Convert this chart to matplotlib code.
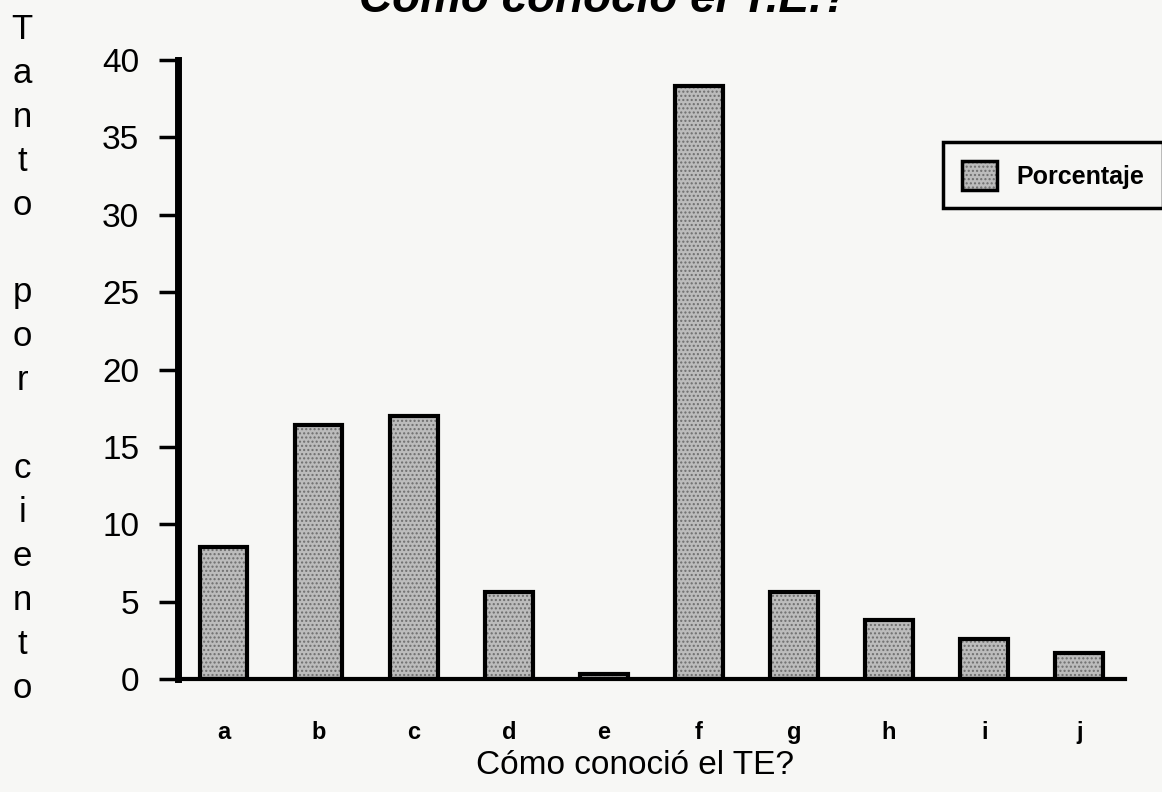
import numpy as np
import matplotlib
matplotlib.use('Agg')
import matplotlib.pyplot as plt
from matplotlib.patches import Patch
from matplotlib.legend_handler import HandlerTuple

# datos
categorias = ['a', 'b', 'c', 'd', 'e', 'f', 'g', 'h', 'i', 'j']
porcentaje = [8.5, 16.4, 17.0, 5.6, 0.3, 38.3, 5.6, 3.8, 2.6, 1.7]
yticks = [0, 5, 10, 15, 20, 25, 30, 35, 40]

plt.rcParams['font.family'] = ['Liberation Sans', 'DejaVu Sans']
bg = '#f7f7f5'
gris = '#bcbcbc'

fig = plt.figure(figsize=(11.62, 7.92), dpi=100, facecolor=bg)
ax = fig.add_axes([0.1532, 0.1427, 0.8148, 0.7815])
ax.set_facecolor(bg)

x = np.arange(len(categorias))
# relleno punteado gris
relleno = ax.bar(x, porcentaje, width=0.5, color=gris, hatch='....',
                 edgecolor='#6e6e6e', linewidth=0, zorder=2)
borde = ax.bar(x, porcentaje, width=0.5, fill=False, edgecolor='black',
               linewidth=3, zorder=3)

ax.set_xlim(-0.48, 9.48)
ax.set_ylim(0, 40)
ax.set_yticks(yticks)
ax.set_yticklabels([str(v) for v in yticks], fontsize=24)
ax.set_xticks(x)
ax.set_xticklabels(categorias, fontsize=17, fontweight='bold')
ax.tick_params(axis='y', direction='out', length=14, width=2.5, pad=14)
ax.tick_params(axis='x', length=0, pad=30)

for s in ['top', 'right']:
    ax.spines[s].set_visible(False)
ax.spines['left'].set_linewidth(5)
ax.spines['bottom'].set_linewidth(3)

ax.set_xlabel('Cómo conoció el TE?', fontsize=24)
ax.xaxis.set_label_coords(0.483, -0.115)
ax.xaxis.label.set_va('top')

# etiqueta vertical letra por letra
fig.text(0.019, 0.547, '\n'.join('Tanto por ciento'), fontsize=25,
         ha='center', va='center', linespacing=1.42)

fig.text(0.52, 0.985, 'Cómo conoció el T.E.?', fontsize=33,
         fontweight='bold', fontstyle='italic', ha='center', va='baseline')

h1 = Patch(facecolor=gris, hatch='....', edgecolor='#6e6e6e', linewidth=0)
h2 = Patch(fill=False, edgecolor='black', linewidth=2.5)
leg = fig.legend([(h1, h2)], ['Porcentaje'], loc='upper left',
                 bbox_to_anchor=(0.8115, 0.8207), borderaxespad=0,
                 handler_map={tuple: HandlerTuple(ndivide=1)},
                 prop={'size': 18, 'weight': 'bold'}, fancybox=False,
                 framealpha=1, edgecolor='black', facecolor=bg,
                 handlelength=1.4, handleheight=1.4, borderpad=0.75,
                 handletextpad=0.8)
leg.get_frame().set_linewidth(2.5)

fig.savefig('out.png', dpi=100, facecolor=bg)
